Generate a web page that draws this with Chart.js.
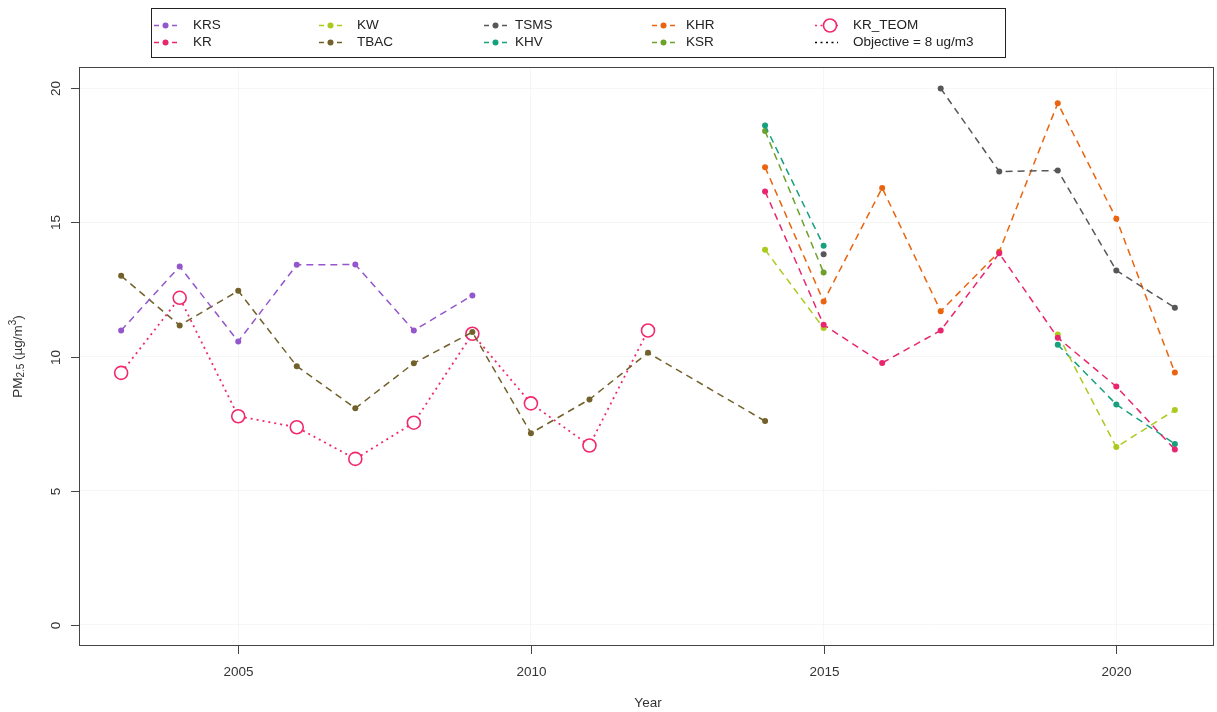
<!DOCTYPE html>
<html>
<head>
<meta charset="utf-8">
<script src="https://cdn.jsdelivr.net/npm/chart.js@4.4.1/dist/chart.umd.min.js"></script>
<style>
  html, body { margin: 0; background: #fff; }
  canvas { display: block; }
</style>
</head>
<body>
<canvas id="chartPm" width="1217" height="712"></canvas>
<script>
// Annual PM2.5 means per station, 2003..2021 (null = no data).
const years = [2003, 2004, 2005, 2006, 2007, 2008, 2009, 2010, 2011, 2012, 2013, 2014, 2015, 2016, 2017, 2018, 2019, 2020, 2021];

const krs    = [10.97, 13.36, 10.56, 13.42, 13.43, 10.97, 12.28, null, null, null, null, null, null, null, null, null, null, null, null];
const kr     = [null, null, null, null, null, null, null, null, null, null, null, 16.16, 11.18, 9.76, 10.97, 13.85, 10.70, 8.88, 6.53];
const kw     = [null, null, null, null, null, null, null, null, null, null, null, 13.98, 11.06, null, null, null, 10.82, 6.62, 8.00];
const tbac   = [13.01, 11.16, 12.45, 9.64, 8.07, 9.75, 10.91, 7.14, 8.40, 10.14, null, 7.59, null, null, null, null, null, null, null];
const tsms   = [null, null, null, null, null, null, null, null, null, null, null, null, 13.81, null, 20.00, 16.90, 16.94, 13.21, 11.82];
const khv    = [null, null, null, null, null, null, null, null, null, null, null, 18.62, 14.13, null, null, null, 10.44, 8.21, 6.74];
const khr    = [null, null, null, null, null, null, null, null, null, null, null, 17.06, 12.05, 16.29, 11.69, 13.91, 19.45, 15.14, 9.40];
const ksr    = [null, null, null, null, null, null, null, null, null, null, null, 18.41, 13.13, null, null, null, null, null, null];
const krTeom = [9.39, 12.19, 7.77, 7.36, 6.18, 7.53, 10.85, 8.25, 6.68, 10.97, null, null, null, null, null, null, null, null, null];

const xTicks = [2005, 2010, 2015, 2020];
const yTicks = [0, 5, 10, 15, 20];

const FONT = '"Liberation Sans", Arial, sans-serif';
const DASH = [7, 5];
const DOT = [2, 4];

function series(label, values, color, extra) {
  return {
    label,
    data: years.map((yr, i) => ({ x: yr, y: values[i] })),
    borderColor: color,
    backgroundColor: color,
    borderDash: DASH,
    borderWidth: 1.5,
    pointRadius: 3,
    pointHoverRadius: 3,
    pointBorderWidth: 0,
    spanGaps: false,
    tension: 0,
    ...extra,
  };
}

const datasets = [
  series('KRS', krs, '#9356CC'),
  series('KR', kr, '#E8256E'),
  series('KW', kw, '#AACB1E'),
  series('TBAC', tbac, '#72612B', { spanGaps: true }),
  series('TSMS', tsms, '#575757'),
  series('KHV', khv, '#16A07E'),
  series('KHR', khr, '#EA640F'),
  series('KSR', ksr, '#6DA12A'),
  series('KR_TEOM', krTeom, '#F2286F', {
    borderDash: DOT, borderWidth: 1.8, pointRadius: 6.5, pointHoverRadius: 6.5,
    pointBorderWidth: 1.6, backgroundColor: '#fff',
  }),
  { label: 'Objective = 8 ug/m3', data: [], borderColor: '#000', borderDash: DOT, borderWidth: 1.5, pointRadius: 0 },
];

// R-style frame, ticks, axis titles and legend.
const rFrame = {
  id: 'rFrame',
  afterDraw(chart) {
    const { ctx, chartArea: a, scales: { x, y } } = chart;
    ctx.save();
    ctx.strokeStyle = '#444';
    ctx.lineWidth = 1;
    ctx.setLineDash([]);
    ctx.strokeRect(a.left + 0.5, a.top + 0.5, a.right - a.left - 4, a.bottom - a.top - 1);

    ctx.fillStyle = '#333';
    ctx.font = '13.5px ' + FONT;
    ctx.textAlign = 'center';
    ctx.textBaseline = 'middle';

    xTicks.forEach(v => {
      const px = Math.round(x.getPixelForValue(v)) + 0.5;
      ctx.beginPath(); ctx.moveTo(px, a.bottom); ctx.lineTo(px, a.bottom + 8); ctx.stroke();
      ctx.fillText(String(v), px, 672);
    });
    yTicks.forEach(v => {
      const py = Math.round(y.getPixelForValue(v)) + 0.5;
      ctx.beginPath(); ctx.moveTo(a.left - 8, py); ctx.lineTo(a.left, py); ctx.stroke();
      ctx.save(); ctx.translate(56, py); ctx.rotate(-Math.PI / 2); ctx.fillText(String(v), 0, 0); ctx.restore();
    });

    ctx.fillText('Year', (a.left + a.right) / 2, 703);

    // y title: PM2.5 (μg/m3) with sub/superscript
    const parts = [['PM', 13.5, 0], ['2.5', 10, 3], [' (\u00B5g/m', 13.5, 0], ['3', 10, -5], [')', 13.5, 0]];
    let total = 0;
    parts.forEach(p => { ctx.font = p[1] + 'px ' + FONT; total += ctx.measureText(p[0]).width; });
    ctx.save();
    ctx.translate(18, (a.top + a.bottom) / 2);
    ctx.rotate(-Math.PI / 2);
    ctx.textAlign = 'left';
    let cx = -total / 2;
    parts.forEach(p => {
      ctx.font = p[1] + 'px ' + FONT;
      ctx.fillText(p[0], cx, p[2]);
      cx += ctx.measureText(p[0]).width;
    });
    ctx.restore();

    // legend box, filled column by column like R
    ctx.strokeStyle = '#222';
    ctx.strokeRect(151.5, 8.5, 854, 49);
    const colX = [154, 319, 484, 652, 815];
    const textX = [193, 357, 515, 686, 853];
    const rowY = [25, 41.5];
    ctx.font = '13.5px ' + FONT;
    ctx.textAlign = 'left';
    chart.data.datasets.forEach((ds, i) => {
      const col = Math.floor(i / 2), row = i % 2;
      const sx = colX[col], sy = Math.round(rowY[row]) + 0.5;
      ctx.strokeStyle = ds.borderColor;
      ctx.lineWidth = 1.5;
      ctx.setLineDash(ds.borderDash === DOT ? [2, 3.5] : [5, 4]);
      ctx.beginPath(); ctx.moveTo(sx, sy); ctx.lineTo(sx + 23, sy); ctx.stroke();
      ctx.setLineDash([]);
      if (ds.pointRadius > 0) {
        ctx.beginPath();
        if (ds.label === 'KR_TEOM') {
          ctx.arc(sx + 15, sy, 6.5, 0, Math.PI * 2);
          ctx.lineWidth = 1.6;
          ctx.fillStyle = '#fff'; ctx.fill();
          ctx.stroke();
        } else {
          ctx.arc(sx + 11.5, sy, 3, 0, Math.PI * 2);
          ctx.fillStyle = ds.borderColor; ctx.fill();
        }
      }
      ctx.fillStyle = '#222';
      ctx.fillText(ds.label, textX[col], rowY[row] + 0.5);
    });
    ctx.restore();
  },
};

new Chart(document.getElementById('chartPm'), {
  type: 'line',
  data: { datasets },
  options: {
    responsive: false,
    animation: false,
    layout: { autoPadding: false, padding: { top: 67, right: 0, left: 0, bottom: 0 } },
    plugins: { legend: { display: false }, tooltip: { enabled: false } },
    scales: {
      x: {
        type: 'linear', min: 2002.28, max: 2021.72,
        afterBuildTicks: s => { s.ticks = xTicks.map(v => ({ value: v })); },
        afterFit: s => { s.height = 66; },
        ticks: { display: false },
        grid: { color: 'rgba(0,0,0,0.035)', drawTicks: false },
        border: { display: false },
      },
      y: {
        type: 'linear', min: -0.8, max: 20.8,
        afterBuildTicks: s => { s.ticks = yTicks.map(v => ({ value: v })); },
        afterFit: s => { s.width = 79; },
        ticks: { display: false },
        grid: { color: 'rgba(0,0,0,0.035)', drawTicks: false },
        border: { display: false },
      },
    },
  },
  plugins: [rFrame],
});
</script>
</body>
</html>
